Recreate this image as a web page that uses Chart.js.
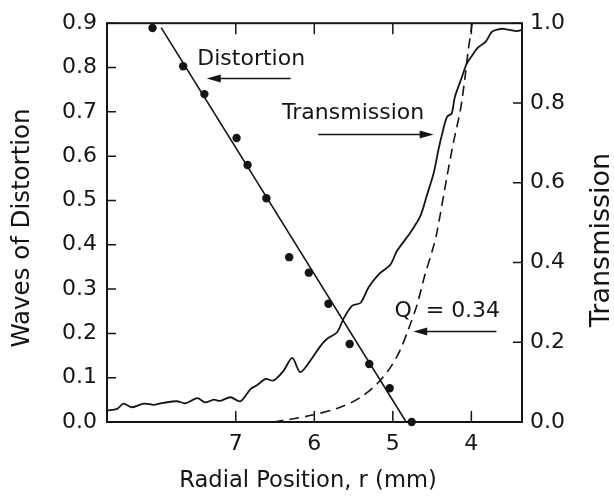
<!DOCTYPE html>
<html lang="en">
<head>
  <meta charset="UTF-8">
  <title>Distortion and Transmission vs Radial Position</title>
  <script src="https://cdn.jsdelivr.net/npm/chart.js"></script>
  <style>
    html, body { margin: 0; padding: 0; background: #fff; }
  </style>
</head>
<body>
  <canvas id="grafico" width="614" height="498"></canvas>

  <script>
    // measured distortion (left axis, waves)
    const distR = [8.06, 7.67, 7.40, 6.99, 6.85, 6.61, 6.32, 6.07, 5.82, 5.55, 5.30, 5.04, 4.76];
    const distWaves = [0.889, 0.803, 0.740, 0.641, 0.580, 0.505, 0.372, 0.337, 0.267, 0.176, 0.131, 0.076, 0.0];

    // straight line fit through the distortion points
    const fitR = [7.95, 4.83];
    const fitWaves = [0.89, 0.0];

    // measured transmission (right axis)
    const transR = [8.64, 8.51, 8.43, 8.32, 8.17, 8.04, 7.92, 7.75, 7.64, 7.49, 7.39, 7.28, 7.20, 7.07,
      6.94, 6.81, 6.73, 6.62, 6.52, 6.39, 6.28, 6.18, 6.05, 5.92, 5.84, 5.71, 5.63, 5.52, 5.41, 5.31,
      5.18, 5.03, 4.95, 4.84, 4.78, 4.65, 4.57, 4.48, 4.42, 4.37, 4.31, 4.25, 4.21, 4.12, 4.06, 3.99,
      3.91, 3.82, 3.74, 3.67, 3.59, 3.51, 3.42, 3.36];
    const transT = [0.029, 0.033, 0.046, 0.037, 0.046, 0.043, 0.048, 0.052, 0.047, 0.060, 0.049, 0.056, 0.053, 0.062,
      0.052, 0.083, 0.092, 0.108, 0.104, 0.129, 0.161, 0.125, 0.154, 0.191, 0.208, 0.225, 0.258, 0.291, 0.299, 0.337,
      0.370, 0.395, 0.428, 0.458, 0.474, 0.516, 0.566, 0.624, 0.682, 0.724, 0.765, 0.774, 0.815, 0.865, 0.898, 0.919,
      0.940, 0.953, 0.978, 0.984, 0.986, 0.983, 0.980, 0.983];

    // model transmission, Q = 0.34 (right axis, dashed)
    const qR = [6.52, 6.30, 6.01, 5.67, 5.41, 5.20, 5.03, 4.91, 4.80, 4.69, 4.59, 4.50, 4.44, 4.31, 4.23, 4.14, 4.08, 4.04, 3.99];
    const qT = [0.0, 0.007, 0.018, 0.037, 0.062, 0.096, 0.137, 0.179, 0.233, 0.295, 0.370, 0.428, 0.474, 0.616, 0.699, 0.782, 0.865, 0.932, 0.998];

    const xTicks = [7, 6, 5, 4];
    const yTicks = [0, 0.1, 0.2, 0.3, 0.4, 0.5, 0.6, 0.7, 0.8, 0.9];
    const y2Ticks = [0, 0.2, 0.4, 0.6, 0.8, 1.0];

    const pts = (xs, ys) => xs.map((v, i) => ({ x: v, y: ys[i] }));

    const familia = "'DejaVu Sans', 'Liberation Sans', Arial, sans-serif";
    const fonte = { family: familia, size: 22 };
    const cor = '#151515';

    // labels and arrows, anchored in data units
    const notas = [
      { text: 'Distortion', r: 7.49, v: 0.819, axis: 'y' },
      { text: 'Transmission', r: 6.41, v: 0.775, axis: 'y2' },
      { text: 'Q  = 0.34', r: 4.98, v: 0.277, axis: 'y2' }
    ];
    const setas = [
      { from: [6.30, 0.775], to: [7.37, 0.775], axis: 'y' },
      { from: [5.95, 0.721], to: [4.48, 0.721], axis: 'y2' },
      { from: [3.68, 0.227], to: [4.74, 0.227], axis: 'y2' }
    ];

    const texto = (ctx, str, px, py, size, rot) => {
      ctx.save();
      ctx.translate(px, py);
      if (rot) ctx.rotate(rot);
      ctx.font = size + 'px ' + familia;
      ctx.textAlign = 'center';
      ctx.textBaseline = 'middle';
      ctx.fillText(str, 0, 0);
      ctx.restore();
    };

    const moldura = {
      id: 'moldura',
      afterDraw(chart) {
        const { ctx, chartArea: a, scales } = chart;
        const { x, y, y2 } = scales;
        ctx.save();
        ctx.strokeStyle = cor;
        ctx.lineWidth = 2;
        ctx.strokeRect(a.left, a.top, a.right - a.left, a.bottom - a.top);

        ctx.lineWidth = 1.5;
        ctx.beginPath();
        x.ticks.forEach(t => {
          const px = x.getPixelForValue(t.value);
          ctx.moveTo(px, a.bottom); ctx.lineTo(px, a.bottom - 11);
          ctx.moveTo(px, a.top); ctx.lineTo(px, a.top + 11);
        });
        y.ticks.forEach(t => {
          const py = y.getPixelForValue(t.value);
          ctx.moveTo(a.left, py); ctx.lineTo(a.left + 9, py);
        });
        y2.ticks.forEach(t => {
          const py = y2.getPixelForValue(t.value);
          ctx.moveTo(a.right, py); ctx.lineTo(a.right - 9, py);
        });
        ctx.stroke();

        ctx.fillStyle = cor;
        ctx.font = fonte.size + 'px ' + familia;
        ctx.textBaseline = 'middle';
        ctx.textAlign = 'left';
        notas.forEach(n => {
          ctx.fillText(n.text, x.getPixelForValue(n.r), scales[n.axis].getPixelForValue(n.v));
        });

        setas.forEach(s => {
          const sc = scales[s.axis];
          const x0 = x.getPixelForValue(s.from[0]), y0 = sc.getPixelForValue(s.from[1]);
          const x1 = x.getPixelForValue(s.to[0]), y1 = sc.getPixelForValue(s.to[1]);
          const dir = Math.sign(x1 - x0);
          ctx.lineWidth = 1.5;
          ctx.beginPath();
          ctx.moveTo(x0, y0);
          ctx.lineTo(x1 - dir * 10, y1);
          ctx.stroke();
          ctx.beginPath();
          ctx.moveTo(x1, y1);
          ctx.lineTo(x1 - dir * 14, y1 - 4);
          ctx.lineTo(x1 - dir * 14, y1 + 4);
          ctx.closePath();
          ctx.fill();
        });

        // axis titles (both vertical ones read bottom to top)
        texto(ctx, 'Waves of Distortion', 23, 228, 24.5, -Math.PI / 2);
        texto(ctx, 'Transmission', 602, 240, 27, -Math.PI / 2);
        texto(ctx, 'Radial Position, r (mm)', 308, 481, 22.6, 0);

        ctx.restore();
      }
    };

    const ctx = document.getElementById('grafico').getContext('2d');
    new Chart(ctx, {
      type: 'scatter',
      data: {
        datasets: [
          {
            label: 'Distortion',
            data: pts(distR, distWaves),
            yAxisID: 'y',
            pointRadius: 4.2,
            pointBackgroundColor: cor,
            pointBorderWidth: 0,
            showLine: false,
            clip: false
          },
          {
            label: 'Fit',
            data: pts(fitR, fitWaves),
            yAxisID: 'y',
            showLine: true,
            borderColor: cor,
            borderWidth: 1.6,
            pointRadius: 0
          },
          {
            label: 'Transmission',
            data: pts(transR, transT),
            yAxisID: 'y2',
            showLine: true,
            borderColor: cor,
            borderWidth: 1.8,
            tension: 0.3,
            pointRadius: 0
          },
          {
            label: 'Q = 0.34',
            data: pts(qR, qT),
            yAxisID: 'y2',
            showLine: true,
            borderColor: cor,
            borderWidth: 1.6,
            borderDash: [10, 6],
            tension: 0.3,
            pointRadius: 0
          }
        ]
      },
      options: {
        responsive: false,
        animation: false,
        layout: { padding: { top: 21, left: 0, right: 0, bottom: 0 } },
        plugins: { legend: { display: false }, tooltip: { enabled: false } },
        scales: {
          x: {
            type: 'linear',
            position: 'bottom',
            reverse: true,
            min: 3.355,
            max: 8.64,
            afterBuildTicks: s => { s.ticks = xTicks.map(v => ({ value: v })); },
            afterFit: s => { s.height = 76; },
            grid: { display: false, drawTicks: false },
            border: { display: false },
            ticks: { padding: 9, font: fonte, color: cor, callback: v => String(v) }
          },
          y: {
            type: 'linear',
            position: 'left',
            min: 0,
            max: 0.9,
            afterBuildTicks: s => { s.ticks = yTicks.map(v => ({ value: v })); },
            afterFit: s => { s.width = 107; },
            grid: { display: false, drawTicks: false },
            border: { display: false },
            ticks: { padding: 10, font: fonte, color: cor, callback: v => v.toFixed(1) }
          },
          y2: {
            type: 'linear',
            position: 'right',
            min: 0,
            max: 1,
            afterBuildTicks: s => { s.ticks = y2Ticks.map(v => ({ value: v })); },
            afterFit: s => { s.width = 92; },
            grid: { display: false, drawTicks: false },
            border: { display: false },
            ticks: { padding: 8, font: fonte, color: cor, callback: v => v.toFixed(1) }
          }
        }
      },
      plugins: [moldura]
    });
  </script>
</body>
</html>
